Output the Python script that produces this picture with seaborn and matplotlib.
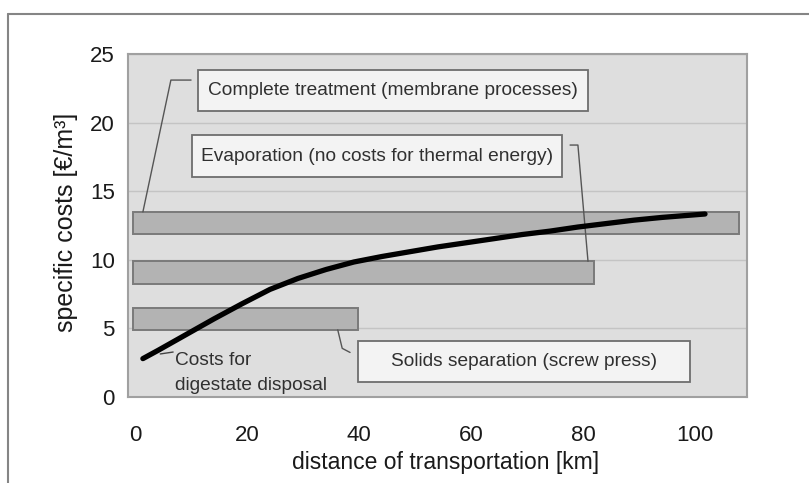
import matplotlib
matplotlib.use("Agg")
import matplotlib.pyplot as plt
import matplotlib.transforms as mtransforms
from matplotlib.patches import Rectangle
from matplotlib.lines import Line2D
import seaborn as sns

# Specific costs of digestate disposal versus transport distance
distance_km = [2.3, 5, 10, 15, 20, 25, 30, 35, 40, 45, 50, 55, 60, 65, 70,
               75, 80, 85, 90, 95, 102.7]
cost_eur_m3 = [2.8, 3.4, 4.55, 5.7, 6.8, 7.85, 8.65, 9.3, 9.85, 10.25, 10.6,
               10.95, 11.25, 11.55, 11.85, 12.1, 12.4, 12.65, 12.9, 13.1, 13.35]

# Treatment options: cost band and distance range
options = ["Solids separation (screw press)",
           "Evaporation (no costs for thermal energy)",
           "Complete treatment (membrane processes)"]
cost_low = [4.9, 8.25, 11.9]
cost_high = [6.5, 9.9, 13.5]
range_start_km = [0.5, 0.5, 0.5]
range_end_km = [40.7, 82.9, 108.8]

x_ticks = [0, 20, 40, 60, 80, 100]
y_ticks = [0, 5, 10, 15, 20, 25]

sns.set_style("white")
plt.rcParams["font.family"] = ["Liberation Sans", "DejaVu Sans"]
TXT = "#303030"
NOTE_SIZE = 13.8

W, H = 809, 483
fig = plt.figure(figsize=(W / 100, H / 100), dpi=100)
fig.patch.set_facecolor("white")
ax = fig.add_axes([128 / W, 1 - 397 / H, 619 / W, (397 - 54.3) / H])
ax.set_facecolor("#dedede")
ax.set_xlim(-0.36, 110.2)
ax.set_ylim(0, 25)

# horizontal grid
ax.set_axisbelow(True)
ax.set_yticks(y_ticks)
ax.set_xticks(x_ticks)
ax.yaxis.grid(True, color="#c4c4c4", linewidth=1.0)
ax.xaxis.grid(False)

# treatment cost bands
for lo, hi, x0, x1 in zip(cost_low, cost_high, range_start_km, range_end_km):
    ax.barh(y=(lo + hi) / 2, width=x1 - x0, height=hi - lo, left=x0,
            color="#b3b3b3", edgecolor="#7a7a7a", linewidth=1.4, zorder=2)

# disposal cost curve
sns.lineplot(x=distance_km, y=cost_eur_m3, ax=ax, color="black",
             linewidth=3.8, zorder=4, solid_capstyle="round",
             solid_joinstyle="round")

# spines and ticks
for s in ax.spines.values():
    s.set_color("#a0a0a0")
    s.set_linewidth(1.5)
ax.tick_params(axis="x", direction="out", length=7, width=1, color="#b8b8b8",
               pad=13, labelsize=16, labelcolor="#1a1a1a")
ax.tick_params(axis="y", direction="out", length=4.5, width=1, color="#b8b8b8",
               pad=5, labelsize=16, labelcolor="#1a1a1a")
ax.set_xticklabels([str(v) for v in x_ticks])
ax.set_yticklabels([str(v) for v in y_ticks])
shift = mtransforms.ScaledTranslation(5 / 100, 0, fig.dpi_scale_trans)
for lab in ax.get_xticklabels():
    lab.set_transform(lab.get_transform() + shift)

ax.set_xlabel("distance of transportation [km]", fontsize=16.5, color="#1a1a1a")
ax.xaxis.set_label_coords((446 - 128) / 619, (397 - 462) / 342.7)
ax.xaxis.label.set_va("center")
ax.set_ylabel("specific costs [€/m³]", fontsize=18, color="#1a1a1a")
ax.yaxis.set_label_coords((66 - 128) / 619, (397 - 222) / 342.7)
ax.yaxis.label.set_va("center")

# option labels in boxes with leader lines
boxes = [
    (40.7, 100.0, 1.09, 4.08),
    (11.1, 77.1, 16.05, 19.11),
    (12.1, 81.8, 20.86, 23.85),
]
leaders = [
    [(37.1, 4.9), (37.9, 3.55), (39.3, 3.25)],
    [(78.6, 18.38), (80.0, 18.38), (81.8, 9.9)],
    [(10.9, 23.12), (7.3, 23.12), (2.3, 13.5)],
]
for name, (bx0, bx1, by0, by1), pts in zip(options, boxes, leaders):
    ax.add_patch(Rectangle((bx0, by0), bx1 - bx0, by1 - by0,
                           facecolor="#f3f3f3", edgecolor="#6e6e6e",
                           linewidth=1.3, zorder=5))
    ax.text((bx0 + bx1) / 2, (by0 + by1) / 2, name, ha="center", va="center",
            fontsize=NOTE_SIZE, color=TXT, zorder=6)
    xs, ys = zip(*pts)
    ax.plot(xs, ys, color="#555555", linewidth=1.0, zorder=3)

# curve label
ax.plot([5.4, 7.7], [3.14, 3.28], color="#444444", linewidth=1.0, zorder=3)
ax.text(8.0, 2.33, "Costs for", ha="left", va="baseline", fontsize=NOTE_SIZE,
        color=TXT, zorder=6)
ax.text(8.0, 0.51, "digestate disposal", ha="left", va="baseline",
        fontsize=NOTE_SIZE, color=TXT, zorder=6)

# outer frame
fig.add_artist(Line2D([8 / W, 1.0], [1 - 14 / H, 1 - 14 / H],
                      transform=fig.transFigure, color="#858585", linewidth=1.5))
fig.add_artist(Line2D([8 / W, 8 / W], [0, 1 - 14 / H],
                      transform=fig.transFigure, color="#858585", linewidth=1.5))

fig.savefig("out.png", dpi=100, facecolor="white")
